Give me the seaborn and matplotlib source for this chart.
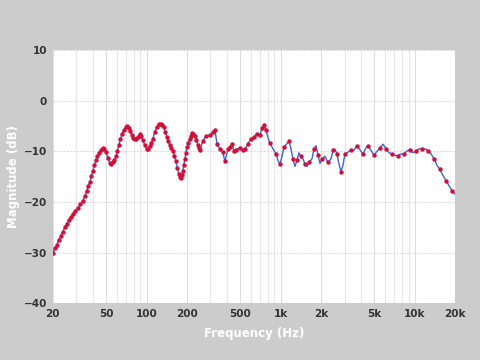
import numpy as np
import pandas as pd
import matplotlib
matplotlib.use("Agg")
import matplotlib.pyplot as plt
import matplotlib.ticker as mticker
import seaborn as sns

# frequency response
freq = [20, 20.7, 21.4, 22.1, 22.9, 23.7, 24.6, 25.4, 26.3, 27.2, 28.2, 29.4, 30.7,
        32.1, 33.5, 34.7, 35.9, 36.8, 37.8, 38.8, 39.8, 40.8, 41.9, 43.0, 44.1, 45.6,
        47.2, 48.5, 49.8, 51.5, 53.2, 54.6, 56.1, 57.5, 59.0, 60.6, 62.2, 63.8, 65.5,
        67.8, 70.1, 71.9, 73.8, 75.8, 77.8, 79.8, 81.9, 84.0, 86.1, 89.2, 91.5, 93.9,
        97.0, 100.5, 103, 105.9, 108.6, 111.5, 115.4, 119.4, 123.6, 127.9, 131, 134.6,
        138, 141.9, 145.5, 149.3, 153.3, 157.4, 161.5, 165.6, 170, 174.2, 177.3, 180.4,
        183.5, 186.7, 190, 193.3, 196.6, 200, 205, 210.5, 214, 217.9, 223.6, 229.6,
        235.5, 241.6, 245.7, 250, 263, 277,
        297, 313, 324, 335, 353, 371, 384, 405, 419, 434, 449, 465, 498, 524, 542,
        571, 601, 632, 666, 701, 726, 751, 778, 804, 832, 877, 923, 955, 989, 1024,
        1059, 1115, 1154, 1194, 1236, 1279, 1324, 1371, 1419, 1468, 1520, 1573, 1628,
        1715, 1775, 1837, 1901, 1968, 2033, 2143, 2256, 2377, 2460, 2543, 2632, 2724,
        2819, 2918, 3020, 3179, 3349, 3524, 3713, 3908, 4113, 4335, 4486, 4722, 4977,
        5237, 5511, 5808, 6111, 6431, 6777, 7131, 7516, 7908, 8321, 8770, 9228, 9725,
        10234, 10768, 11349, 11941, 12585, 13243, 13935, 14687, 15454, 16262, 17140,
        18035, 19008, 20000]
db = [-30.0, -29.2, -28.5, -27.6, -26.8, -25.9, -25.0, -24.3, -23.6, -23.0, -22.4,
      -21.8, -21.2, -20.5, -19.8, -18.8, -17.8, -16.9, -16.0, -14.9, -13.8, -12.8,
      -11.8, -11.0, -10.3, -9.7, -9.4, -9.6, -10.2, -11.3, -12.3, -12.5, -12.2, -11.8,
      -11.0, -10.0, -8.8, -7.6, -6.6, -5.8, -5.2, -5.1, -5.5, -6.0, -6.8, -7.3, -7.5,
      -7.5, -7.2, -6.6, -7.0, -7.8, -8.8, -9.6, -9.6, -9.0, -8.3, -7.5, -6.2, -5.2,
      -4.7, -4.6, -4.8, -5.2, -6.1, -7.2, -8.0, -8.8, -9.3, -10.0, -11.0, -12.0, -13.3,
      -14.5, -15.0, -15.2, -14.6, -13.8, -12.7, -11.5, -10.3, -9.2, -8.3, -7.5, -6.9,
      -6.4, -6.6, -7.0, -7.8, -8.8, -9.4, -9.8, -8.0,
      -7.0, -6.8, -6.2, -5.8, -8.5, -9.5, -10.2, -12.0, -9.5, -9.2, -8.5, -10.0,
      -9.7, -9.3, -9.8, -9.6, -8.5, -7.6, -7.2, -6.5, -6.8, -5.5, -4.8, -5.8, -7.2,
      -8.4, -9.5, -10.5, -11.8, -12.6, -11.0, -9.2, -8.5, -8.0, -9.5, -11.5, -13.0,
      -11.8, -10.3, -11.0, -11.5, -12.5, -13.0, -12.2, -11.5, -9.5, -8.9, -10.8,
      -12.4, -11.5, -11.0, -12.2, -11.5, -9.8, -9.6, -10.5, -12.5, -14.0, -12.8,
      -10.5, -10.2, -9.7, -9.8, -8.9, -9.7, -10.6, -9.3, -8.9, -9.8, -10.8, -10.0,
      -9.4, -8.6, -9.5, -10.3, -10.5, -10.8, -10.9, -10.5, -10.6, -9.9, -9.7, -10.3,
      -10.0, -9.5, -9.6, -9.5, -9.9, -10.5, -11.5, -12.8, -13.6, -14.8, -15.8,
      -16.8, -17.8, -18.5]

xticks = [20, 50, 100, 200, 500, 1000, 2000, 5000, 10000, 20000]
xticklabels = ["20", "50", "100", "200", "500", "1k", "2k", "5k", "10k", "20k"]
yticks = [-40, -30, -20, -10, 0, 10]

df = pd.DataFrame({"freq": freq, "db": db})

sns.set_style("white")
plt.rcParams["font.family"] = ["DejaVu Sans"]

fig = plt.figure(figsize=(4.8, 3.6), dpi=100, facecolor="#cccccc")
ax = fig.add_axes([0.110, 0.158, 0.838, 0.703])
ax.set_facecolor("white")

# dense markers at low end, every other point above ~800 Hz
marks = [i for i, f in enumerate(freq) if f < 800 or i % 2 == 0]
sns.lineplot(data=df, x="freq", y="db", ax=ax, color="#3a66d0", linewidth=1.0,
             marker="o", markersize=3.2, markerfacecolor="#d0103a",
             markeredgecolor="#d0103a", markeredgewidth=0, markevery=marks,
             zorder=3)

ax.set_xscale("log")
ax.set_xlim(20, 20000)
ax.set_ylim(-40, 10)
ax.set_xticks(xticks)
ax.set_xticklabels(xticklabels)
ax.xaxis.set_minor_locator(mticker.LogLocator(base=10, subs=np.arange(2, 10)))
ax.xaxis.set_minor_formatter(mticker.NullFormatter())
ax.set_yticks(yticks)

ax.grid(True, which="minor", axis="x", color="#e8e4ea", linewidth=0.8)
ax.grid(True, which="major", axis="x", color="#e0dce4", linewidth=0.8)
ax.grid(True, which="major", axis="y", color="#dcdce2", linewidth=0.8, linestyle=(0, (2, 1)))
ax.set_axisbelow(True)

for s in ax.spines.values():
    s.set_visible(False)
ax.tick_params(which="both", length=0, pad=4, labelsize=7.5, labelcolor="#333333")
for lab in ax.get_xticklabels() + ax.get_yticklabels():
    lab.set_fontweight("bold")

ax.set_xlabel("Frequency (Hz)", color="white", fontsize=8.5, fontweight="bold", labelpad=6)
ax.set_ylabel("Magnitude (dB)", color="white", fontsize=8.5, fontweight="bold", labelpad=3)

fig.savefig("out.png", dpi=100, facecolor=fig.get_facecolor())
